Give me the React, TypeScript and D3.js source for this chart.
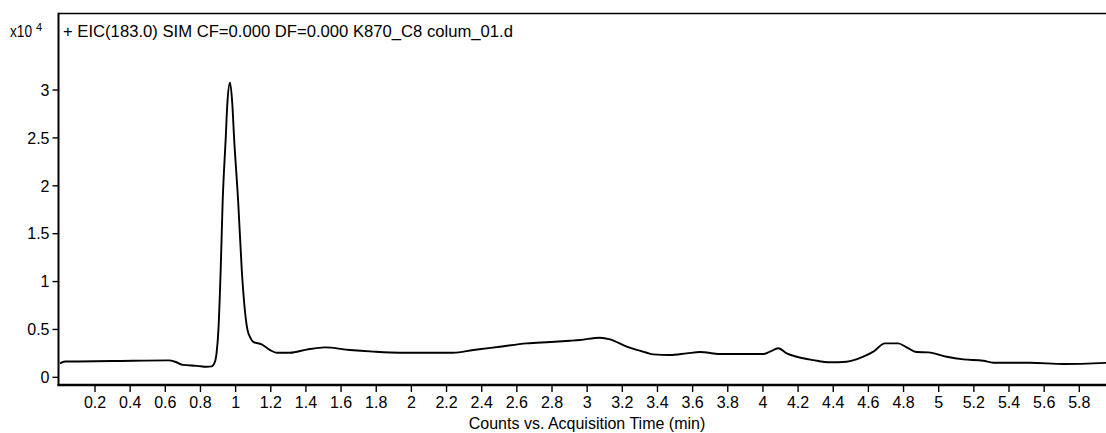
import React from "react";
import * as d3 from "d3";

// Extracted ion chromatogram, m/z 183.0 (SIM). Intensity in units of 10^4 counts.
const times = [
  0.0, 0.03, 0.3, 0.62, 0.66, 0.7, 0.78, 0.835, 0.864, 0.882, 0.892, 0.902,
  0.915, 0.926, 0.944, 0.953, 0.968, 0.981, 0.991, 1.015, 1.035, 1.05, 1.067,
  1.085, 1.1, 1.148, 1.196, 1.234, 1.309, 1.404, 1.508, 1.65, 1.783, 1.935,
  2.238, 2.352, 2.504, 2.656, 2.789, 2.902, 2.96, 3.073, 3.13, 3.225, 3.339,
  3.376, 3.471, 3.566, 3.642, 3.756, 4.002, 4.04, 4.088, 4.135, 4.192, 4.287,
  4.382, 4.476, 4.571, 4.628, 4.694, 4.77, 4.818, 4.875, 4.941, 5.046, 5.14,
  5.254, 5.311, 5.52, 5.71, 5.96,
];
const counts = [
  0.146, 0.165, 0.17, 0.177, 0.16, 0.13, 0.12, 0.11, 0.115, 0.16, 0.26, 0.49,
  1.12, 1.82, 2.51, 2.86, 3.076, 2.86, 2.51, 1.82, 1.12, 0.75, 0.5, 0.41,
  0.37, 0.345, 0.285, 0.257, 0.257, 0.29, 0.313, 0.285, 0.268, 0.257, 0.257,
  0.285, 0.32, 0.355, 0.369, 0.382, 0.39, 0.414, 0.397, 0.32, 0.257, 0.24,
  0.233, 0.25, 0.264, 0.243, 0.243, 0.268, 0.303, 0.25, 0.215, 0.18, 0.157,
  0.163, 0.215, 0.268, 0.355, 0.355, 0.313, 0.264, 0.261, 0.215, 0.188,
  0.173, 0.152, 0.152, 0.139, 0.152,
];

const xTickValues = [
  0.2, 0.4, 0.6, 0.8, 1, 1.2, 1.4, 1.6, 1.8, 2, 2.2, 2.4, 2.6, 2.8, 3, 3.2, 3.4,
  3.6, 3.8, 4, 4.2, 4.4, 4.6, 4.8, 5, 5.2, 5.4, 5.6, 5.8,
];
const yTickValues = [0, 0.5, 1, 1.5, 2, 2.5, 3];

const title = "+ EIC(183.0) SIM  CF=0.000 DF=0.000 K870_C8 colum_01.d";
const xAxisTitle = "Counts vs. Acquisition Time (min)";

const W = 1106;
const H = 433;
const left = 58.5;
const top = 13.5;
const bottom = 385;
const font = "'Liberation Sans', Arial, sans-serif";

export default function App() {
  const x = d3.scaleLinear().domain([0, 5.955]).range([59.85, 59.85 + 175.77 * 5.955]);
  const y = d3.scaleLinear().domain([-0.08, 3.8]).range([bottom, top - 0.1]);

  const pts = times.map((t, i) => [t, counts[i]] as [number, number]);
  const line = d3
    .line<[number, number]>()
    .x((d) => x(d[0]))
    .y((d) => y(d[1]))
    .curve(d3.curveMonotoneX);

  const fmt = (v: number) => String(+v.toFixed(1));

  return (
    <svg
      width={W}
      height={H}
      style={{ position: "absolute", left: 0, top: 0, background: "#fff" }}
      fontFamily={font}
    >
      <defs>
        <clipPath id="plotArea">
          <rect x={left + 1} y={top} width={W - left} height={bottom - top - 1} />
        </clipPath>
      </defs>

      {/* trace */}
      <path
        d={line(pts) || ""}
        fill="none"
        stroke="#000"
        strokeWidth={1.9}
        strokeLinejoin="round"
        clipPath="url(#plotArea)"
      />

      {/* frame */}
      <line x1={left} x2={W} y1={top} y2={top} stroke="#000" strokeWidth={1.5} />
      <line x1={left} x2={left} y1={top - 0.75} y2={bottom + 1} stroke="#000" strokeWidth={2} />
      <line x1={left - 1} x2={W} y1={bottom} y2={bottom} stroke="#000" strokeWidth={2.5} />

      {/* y axis */}
      {yTickValues.map((v) => (
        <g key={v}>
          <line x1={left - 6} x2={left} y1={y(v)} y2={y(v)} stroke="#000" strokeWidth={1.4} />
          <text x={left - 9} y={y(v)} dy="0.36em" textAnchor="end" fontSize={16} fill="#000">
            {fmt(v)}
          </text>
        </g>
      ))}

      {/* x axis */}
      {xTickValues.map((v) => (
        <g key={v}>
          <line x1={x(v)} x2={x(v)} y1={bottom} y2={bottom + 7} stroke="#000" strokeWidth={1.4} />
          <text x={x(v)} y={408} textAnchor="middle" fontSize={16} fill="#000">
            {fmt(v)}
          </text>
        </g>
      ))}

      <text x={587} y={429} textAnchor="middle" fontSize={16} fill="#000">
        {xAxisTitle}
      </text>

      {/* scale factor */}
      <text x={10} y={37} fontSize={16} fill="#000" textLength={22} lengthAdjust="spacingAndGlyphs">
        x10
      </text>
      <text x={36} y={31} fontSize={11} fill="#000">
        4
      </text>

      {/* trace title */}
      <text x={63} y={37} fontSize={16} fill="#000" textLength={450} lengthAdjust="spacingAndGlyphs">
        {title}
      </text>
    </svg>
  );
}
